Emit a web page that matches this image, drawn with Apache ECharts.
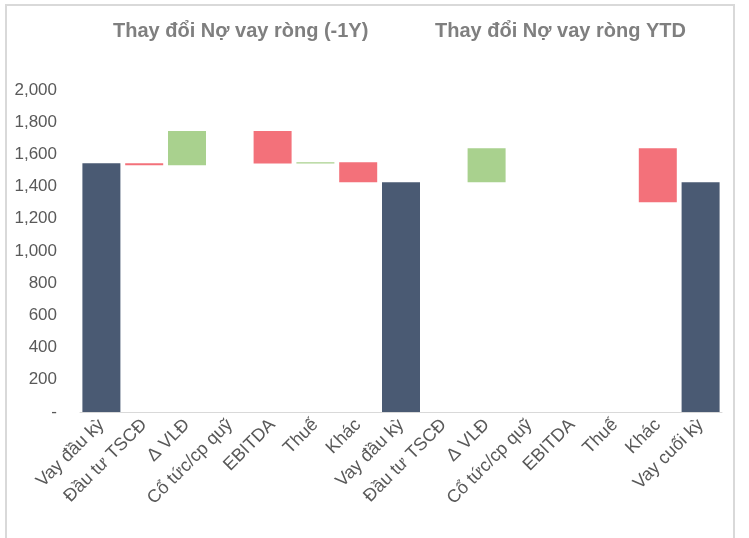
<!DOCTYPE html>
<html>
<head>
<meta charset="utf-8">
<script src="https://cdn.jsdelivr.net/npm/echarts@6/dist/echarts.min.js"></script>
<style>
  html, body { margin: 0; padding: 0; background: #fff; }
  #main { width: 749px; height: 538px; }
</style>
</head>
<body>
<div id="main"></div>
<script>
var categories = ['Vay đầu kỳ', 'Đầu tư TSCĐ', 'Δ VLĐ', 'Cổ tức/cp quỹ', 'EBITDA', 'Thuế', 'Khác',
                  'Vay đầu kỳ', 'Đầu tư TSCĐ', 'Δ VLĐ', 'Cổ tức/cp quỹ', 'EBITDA', 'Thuế', 'Khác', 'Vay cuối kỳ'];
// gia tri bat dau / ket thuc cua moi cot
var barStart = [0, 1545, 1533, null, 1745, 1543, 1551, 0, null, 1427, null, null, null, 1638, 0];
var barEnd   = [1545, 1533, 1745, null, 1543, 1551, 1427, 1427, null, 1638, null, null, null, 1303, 1427];
var barKind  = ['total', 'loss', 'gain', null, 'loss', 'gain', 'loss', 'total', null, 'gain', null, null, null, 'loss', 'total'];
var yTicks = [0, 200, 400, 600, 800, 1000, 1200, 1400, 1600, 1800, 2000];
var titles = ['Thay đổi Nợ vay ròng (-1Y)', 'Thay đổi Nợ vay ròng YTD'];

var colors = { total: '#4a5a73', gain: '#a9d18e', loss: '#f3717a' };
var labelFont = "'Liberation Sans Narrow', 'Liberation Sans', Arial, sans-serif";

var baseData = [], valueData = [];
for (var i = 0; i < categories.length; i++) {
    if (barKind[i] == null) {
        baseData.push('-');
        valueData.push('-');
        continue;
    }
    baseData.push(Math.min(barStart[i], barEnd[i]));
    valueData.push({
        value: Math.abs(barEnd[i] - barStart[i]),
        itemStyle: { color: colors[barKind[i]] }
    });
}

var myChart = echarts.init(document.getElementById('main'));
var option = {
    animation: false,
    graphic: [
        { type: 'polyline', shape: { points: [[6, 538], [6, 5], [734, 5], [734, 538]] },
          style: { stroke: '#d9d9d9', lineWidth: 2, fill: null } },
        { type: 'text', left: 113, top: 21,
          style: { text: titles[0], fill: '#7f7f7f', font: "bold 20px " + labelFont } },
        { type: 'text', left: 435, top: 21,
          style: { text: titles[1], fill: '#7f7f7f', font: "bold 20px " + labelFont } }
    ],
    grid: { left: 80, right: 27, top: 90, bottom: 126, containLabel: false },
    xAxis: {
        type: 'category',
        data: categories,
        axisLine: { lineStyle: { color: '#d9d9d9', width: 1 } },
        axisTick: { show: false },
        axisLabel: {
            interval: 0, rotate: 45, color: '#595959', fontSize: 18,
            fontFamily: labelFont, margin: 10
        }
    },
    yAxis: {
        type: 'value',
        min: 0, max: 2000, interval: 200,
        splitLine: { show: false },
        axisLine: { show: false },
        axisTick: { show: false },
        axisLabel: {
            color: '#595959', fontSize: 17, fontFamily: labelFont, margin: 23,
            formatter: function (v) {
                if (yTicks.indexOf(v) < 0) return '';
                return v === 0 ? '-' : v.toLocaleString('en-US');
            }
        }
    },
    series: [
        {
            name: 'base', type: 'bar', stack: 'w', barWidth: 38,
            itemStyle: { color: 'transparent' },
            silent: true,
            data: baseData
        },
        {
            name: 'value', type: 'bar', stack: 'w', barWidth: 38,
            data: valueData
        }
    ]
};
myChart.setOption(option);
</script>
</body>
</html>
